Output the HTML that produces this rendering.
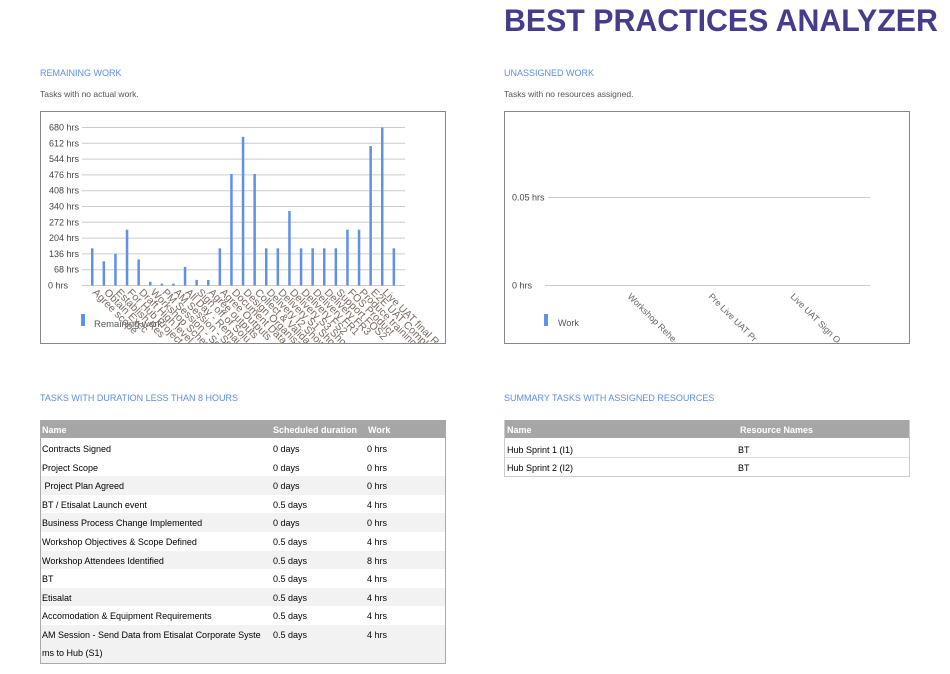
<!DOCTYPE html>
<html><head><meta charset="utf-8"><style>
body{margin:0;width:950px;height:674px;background:#fff;font-family:"Liberation Sans",Arial,sans-serif;position:relative;overflow:hidden}
.a{position:absolute;white-space:nowrap}
.h{color:#5b8ee6;font-size:9px}
.s{color:#555;font-size:8.5px}
.t{font-size:9px;color:#000}
</style></head><body>
<div class="a" style="left:504px;top:2px;font-size:31.5px;font-weight:bold;color:#463c8e;transform:scaleX(0.962);transform-origin:0 0">BEST PRACTICES ANALYZER</div>

<div class="a h" style="left:40px;top:68px">REMAINING WORK</div>
<div class="a s" style="left:40px;top:89px">Tasks with no actual work.</div>
<div class="a h" style="left:504px;top:68px">UNASSIGNED WORK</div>
<div class="a s" style="left:504px;top:89px">Tasks with no resources assigned.</div>

<svg class="a" style="left:0;top:0" width="950" height="674" font-family="Liberation Sans, Arial, sans-serif">
<defs><clipPath id="c1"><rect x="40" y="111" width="406" height="232"/></clipPath></defs>
<rect x="40.5" y="111.5" width="405" height="232" fill="none" stroke="#888"/>
<g stroke="#ccc" stroke-width="1">
<line x1="82" x2="405" y1="127.5" y2="127.5"/><line x1="82" x2="405" y1="143.3" y2="143.3"/><line x1="82" x2="405" y1="159.1" y2="159.1"/><line x1="82" x2="405" y1="174.9" y2="174.9"/><line x1="82" x2="405" y1="190.7" y2="190.7"/><line x1="82" x2="405" y1="206.5" y2="206.5"/><line x1="82" x2="405" y1="222.3" y2="222.3"/><line x1="82" x2="405" y1="238.1" y2="238.1"/><line x1="82" x2="405" y1="253.9" y2="253.9"/><line x1="82" x2="405" y1="269.7" y2="269.7"/><line x1="82" x2="405" y1="285.5" y2="285.5"/>
</g>
<g font-size="9" fill="#444" text-anchor="end">
<text x="79" y="130.5">680 hrs</text><text x="79" y="146.3">612 hrs</text><text x="79" y="162.1">544 hrs</text><text x="79" y="177.9">476 hrs</text><text x="79" y="193.7">408 hrs</text><text x="79" y="209.5">340 hrs</text><text x="79" y="225.3">272 hrs</text><text x="79" y="241.1">204 hrs</text><text x="79" y="256.9">136 hrs</text><text x="79" y="272.7">68 hrs</text><text x="68" y="288.5">0 hrs</text>
</g>
<g fill="#6090e8" id="bars"></g>
<rect x="81" y="314" width="4" height="12" fill="#6090e8"/>
<text x="94" y="327" font-size="9.5" fill="#555">Remaining work</text>
<g font-size="10.5" fill="#7a6a60" id="lbls" clip-path="url(#c1)"></g>

<rect x="504.5" y="111.5" width="405" height="232" fill="none" stroke="#888"/>
<line x1="548" x2="870" y1="197.5" y2="197.5" stroke="#ccc"/>
<line x1="545" x2="870" y1="285.5" y2="285.5" stroke="#ccc"/>
<text x="512" y="200.5" font-size="9" fill="#444">0.05 hrs</text>
<text x="512" y="288.5" font-size="9" fill="#444">0 hrs</text>
<g font-size="9" fill="#666">
<text transform="translate(627,297) rotate(45)">Workshop Rehe</text>
<text transform="translate(708,297) rotate(45)">Pre Live UAT Pr</text>
<text transform="translate(790,297) rotate(45)">Live UAT Sign O</text>
</g>
<rect x="544" y="314" width="4" height="12" fill="#6090e8"/>
<text x="558" y="326" font-size="9" fill="#555">Work</text>
</svg>

<div class="a h" style="left:40px;top:393px">TASKS WITH DURATION LESS THAN 8 HOURS</div>
<div class="a h" style="left:504px;top:393px">SUMMARY TASKS WITH ASSIGNED RESOURCES</div>

<div class="a" style="left:40px;top:420px;width:404px;height:243px;border:1px solid #aaa;border-top:none" id="t1"></div>
<div class="a" style="left:504px;top:420px;width:404px;height:56px;border:1px solid #ccc;border-top:none">
<div class="a" style="left:0;top:0;width:404px;height:18px;background:#a6a6a6"></div>
<div class="a t" style="left:2px;top:5px;color:#fff;font-weight:bold">Name</div>
<div class="a t" style="left:235px;top:5px;color:#fff;font-weight:bold">Resource Names</div>
<div class="a" style="left:0;top:37px;width:404px;height:1px;background:#ddd"></div>
<div class="a t" style="left:2px;top:25px">Hub Sprint 1 (I1)</div><div class="a t" style="left:233px;top:25px">BT</div>
<div class="a t" style="left:2px;top:43px">Hub Sprint 2 (I2)</div><div class="a t" style="left:233px;top:43px">BT</div>
</div>

<script>
var v=[160,104,136,240,112,16,8,8,80,24,24,160,480,640,480,160,160,320,160,160,160,160,240,240,600,680,160];
var L=["Agree scope","Obtain Exec","Establish Res","For Hub Project","Draft High level","Workshop Sched","PM Session - Se","AM Session - Se","All Day - Remai","Sign off of Solu","Agree outputs","Agree Outputs","Document Data","Design Organisa","Collect & Valida","Delivery I2 Show","Delivery S1 Sho","Delivery S3 Sho","Delivery FS2","Delivery FR1","Delivery FR3","Support FOS2","FOS Product","Produce training","E2E UAT Compl","Live UAT final R","Live UAT"];
var b='',l='';
for(var i=0;i<v.length;i++){var x=91+i*11.6,h=v[i]*158/680;
b+='<rect x="'+x.toFixed(1)+'" y="'+(285.5-h).toFixed(1)+'" width="2.5" height="'+h.toFixed(1)+'"/>';
if(i<26)l+='<text transform="translate('+(x+1).toFixed(1)+',293) rotate(45)">'+L[i].replace('&','&amp;')+'</text>';}
document.getElementById('bars').innerHTML=b;document.getElementById('lbls').innerHTML=l;
var rows=[["Contracts Signed","0 days","0 hrs"],["Project Scope","0 days","0 hrs"],[" Project Plan Agreed","0 days","0 hrs"],["BT / Etisalat Launch event","0.5 days","4 hrs"],["Business Process Change Implemented","0 days","0 hrs"],["Workshop Objectives &amp; Scope Defined","0.5 days","4 hrs"],["Workshop Attendees Identified","0.5 days","8 hrs"],["BT","0.5 days","4 hrs"],["Etisalat","0.5 days","4 hrs"],["Accomodation &amp; Equipment Requirements","0.5 days","4 hrs"],["AM Session - Send Data from Etisalat Corporate Syste","0.5 days","4 hrs"]];
var h='<div class="a" style="left:0;top:0;width:404px;height:18px;background:#a6a6a6"></div><div class="a t" style="left:1px;top:5px;color:#fff;font-weight:bold">Name</div><div class="a t" style="left:232px;top:5px;color:#fff;font-weight:bold">Scheduled duration</div><div class="a t" style="left:327px;top:5px;color:#fff;font-weight:bold">Work</div>';
for(var r=0;r<rows.length;r++){var y=19+r*18.6;
if(r%2==0&&r>0)h+='<div class="a" style="left:0;top:'+y+'px;width:404px;height:'+(r==10?38:18.6)+'px;background:#f2f2f2"></div>';
h+='<div class="a t" style="left:1px;top:'+(y+5)+'px;white-space:pre">'+rows[r][0]+'</div><div class="a t" style="left:232px;top:'+(y+5)+'px">'+rows[r][1]+'</div><div class="a t" style="left:326px;top:'+(y+5)+'px">'+rows[r][2]+'</div>';}
h+='<div class="a t" style="left:1px;top:'+(19+10*18.6+23)+'px">ms to Hub (S1)</div>';
document.getElementById('t1').innerHTML=h;
</script>
</body></html>
